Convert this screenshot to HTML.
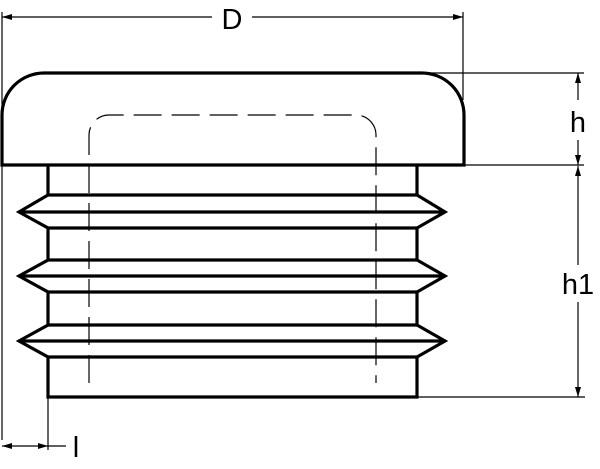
<!DOCTYPE html>
<html><head><style>html,body{margin:0;padding:0;background:#fff}svg{display:block}</style></head>
<body>
<svg width="600" height="469" viewBox="0 0 600 469" xmlns="http://www.w3.org/2000/svg">
<defs>
<marker id="a" viewBox="0 0 10 6" refX="10" refY="3" markerWidth="10" markerHeight="6" markerUnits="userSpaceOnUse" orient="auto-start-reverse"><path d="M0,0 L10,3 L0,6 z" fill="#000"/></marker>
</defs>
<g fill="none" stroke="#000" stroke-width="3.2" stroke-linejoin="miter">
<path d="M2,165 L2,115 A42,42 0 0 1 44,73 L422,73 A42,42 0 0 1 464,115 L464,165 Z"/>
<path d="M48,165 V195 L19,212 L48,228 V260 L19,276 L48,292 V325 L19,341 L48,357 V397 H417 V357 L445,341 L417,325 V292 L445,276 L417,260 V228 L445,212 L417,195 V165"/>
<path d="M48,195 H417 M19,212 H445 M48,228 H417 M48,260 H417 M19,276 H445 M48,292 H417 M48,325 H417 M19,341 H445 M48,357 H417"/>
</g>
<g fill="none" stroke="#000" stroke-width="1.2">
<path d="M89,383 V135 A20,20 0 0 1 109,115 H356 A20,20 0 0 1 376,135 V383" stroke-dasharray="28,10"/>
<path d="M2,12 V440 M463,12 V100 M425,73 H584 M464,165 H584 M417,397 H585 M48,397 V450 M48,446 H66"/>
<line x1="2" y1="17" x2="212" y2="17" marker-start="url(#a)"/>
<line x1="252" y1="17" x2="463" y2="17" marker-end="url(#a)"/>
<line x1="578" y1="100" x2="578" y2="73" marker-end="url(#a)"/>
<line x1="578" y1="140" x2="578" y2="165" marker-end="url(#a)"/>
<line x1="578" y1="265" x2="578" y2="166" marker-end="url(#a)"/>
<line x1="578" y1="302" x2="578" y2="397" marker-end="url(#a)"/>
<line x1="2" y1="446" x2="48" y2="446" marker-start="url(#a)" marker-end="url(#a)"/>
</g>
<g font-family="Liberation Sans, sans-serif" font-size="29" fill="#000">
<text x="232" y="29" text-anchor="middle">D</text>
<text x="578" y="132" text-anchor="middle">h</text>
<text x="578" y="294" text-anchor="middle">h1</text>
<text x="76" y="457" text-anchor="middle">l</text>
</g>
</svg>
</body></html>
